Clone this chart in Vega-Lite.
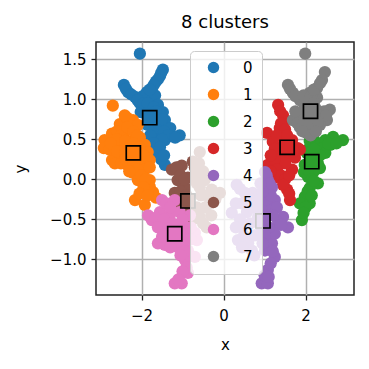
{
  "$schema": "https://vega.github.io/schema/vega-lite/v6.json",
  "autosize": "none",
  "width": 258,
  "height": 253,
  "padding": {"left": 96, "top": 42, "right": 15, "bottom": 74},
  "background": "white",
  "title": {"text": "8 clusters", "font": "DejaVu Sans", "fontSize": 18, "fontWeight": "normal", "color": "#000", "anchor": "middle", "offset": 10},
  "config": {
    "view": {"stroke": "#222", "strokeWidth": 1.5},
    "axis": {"domain": false, "grid": true, "gridColor": "#b0b0b0", "gridWidth": 1.5, "tickColor": "#222", "tickSize": 5, "tickWidth": 1.3, "labelFont": "DejaVu Sans", "labelFontSize": 15, "labelColor": "#000", "titleFont": "DejaVu Sans", "titleFontSize": 15, "titleFontWeight": "normal", "titleColor": "#000"}
  },
  "datasets": {
    "pts": [
      {"x": -2.04, "y": 1.57, "c": "0"}, {"x": -1.48, "y": 1.37, "c": "0"}, {"x": -1.55, "y": 1.29, "c": "0"}, {"x": -1.65, "y": 1.22, "c": "0"}, {"x": -1.75, "y": 1.14, "c": "0"}, {"x": -1.87, "y": 1.09, "c": "0"}, {"x": -1.97, "y": 1.04, "c": "0"}, {"x": -2.43, "y": 1.18, "c": "0"}, {"x": -2.33, "y": 1.09, "c": "0"}, {"x": -2.16, "y": 1.03, "c": "0"}, {"x": -2.04, "y": 0.95, "c": "0"}, {"x": -1.9, "y": 0.89, "c": "0"}, {"x": -1.75, "y": 0.99, "c": "0"}, {"x": -1.67, "y": 1.05, "c": "0"}, {"x": -1.6, "y": 0.93, "c": "0"}, {"x": -1.48, "y": 0.84, "c": "0"}, {"x": -1.43, "y": 0.74, "c": "0"}, {"x": -1.5, "y": 0.65, "c": "0"}, {"x": -1.55, "y": 0.58, "c": "0"}, {"x": -1.07, "y": 0.55, "c": "0"}, {"x": -1.26, "y": 0.54, "c": "0"}, {"x": -1.43, "y": 0.49, "c": "0"}, {"x": -1.6, "y": 0.47, "c": "0"}, {"x": -1.67, "y": 0.37, "c": "0"}, {"x": -1.6, "y": 0.33, "c": "0"}, {"x": -1.43, "y": 0.18, "c": "0"}, {"x": -1.85, "y": 0.68, "c": "0"}, {"x": -1.67, "y": 0.64, "c": "0"}, {"x": -1.79, "y": 0.55, "c": "0"}, {"x": -1.3, "y": 0.64, "c": "0"}, {"x": -1.55, "y": 0.81, "c": "0"}, {"x": -1.79, "y": 0.78, "c": "0"}, {"x": -2.02, "y": 0.84, "c": "0"},
      {"x": -1.52, "y": 1.33, "c": "0"}, {"x": -1.6, "y": 1.25, "c": "0"}, {"x": -1.7, "y": 1.18, "c": "0"}, {"x": -1.8, "y": 1.12, "c": "0"}, {"x": -2.38, "y": 1.13, "c": "0"}, {"x": -2.25, "y": 1.06, "c": "0"}, {"x": -2.1, "y": 0.99, "c": "0"}, {"x": -1.95, "y": 0.95, "c": "0"}, {"x": -1.85, "y": 0.95, "c": "0"}, {"x": -1.7, "y": 0.9, "c": "0"}, {"x": -1.65, "y": 0.85, "c": "0"}, {"x": -1.9, "y": 0.82, "c": "0"}, {"x": -1.7, "y": 0.75, "c": "0"}, {"x": -1.6, "y": 0.7, "c": "0"}, {"x": -1.5, "y": 0.75, "c": "0"}, {"x": -1.45, "y": 0.6, "c": "0"}, {"x": -1.35, "y": 0.55, "c": "0"}, {"x": -1.18, "y": 0.52, "c": "0"}, {"x": -1.5, "y": 0.5, "c": "0"}, {"x": -1.7, "y": 0.45, "c": "0"}, {"x": -1.55, "y": 0.4, "c": "0"}, {"x": -1.52, "y": 0.25, "c": "0"}, {"x": -1.45, "y": 0.3, "c": "0"},
      {"x": -2.7, "y": 0.92, "c": "1"}, {"x": -2.9, "y": 0.49, "c": "1"}, {"x": -2.72, "y": 0.57, "c": "1"}, {"x": -2.53, "y": 0.69, "c": "1"}, {"x": -2.36, "y": 0.77, "c": "1"}, {"x": -2.21, "y": 0.74, "c": "1"}, {"x": -2.09, "y": 0.68, "c": "1"}, {"x": -2.41, "y": 0.59, "c": "1"}, {"x": -2.58, "y": 0.43, "c": "1"}, {"x": -2.29, "y": 0.47, "c": "1"}, {"x": -2.04, "y": 0.52, "c": "1"}, {"x": -1.92, "y": 0.43, "c": "1"}, {"x": -1.85, "y": 0.34, "c": "1"}, {"x": -2.72, "y": 0.24, "c": "1"}, {"x": -2.53, "y": 0.3, "c": "1"}, {"x": -2.34, "y": 0.18, "c": "1"}, {"x": -2.04, "y": 0.22, "c": "1"}, {"x": -1.8, "y": 0.24, "c": "1"}, {"x": -2.65, "y": 0.2, "c": "1"}, {"x": -1.92, "y": 0.12, "c": "1"}, {"x": -2.09, "y": -0.01, "c": "1"}, {"x": -1.8, "y": -0.01, "c": "1"}, {"x": -1.72, "y": -0.16, "c": "1"}, {"x": -1.8, "y": -0.09, "c": "1"}, {"x": -2.16, "y": -0.26, "c": "1"}, {"x": -1.92, "y": -0.32, "c": "1"}, {"x": -1.65, "y": -0.23, "c": "1"}, {"x": -2.92, "y": 0.39, "c": "1"}, {"x": -2.78, "y": 0.37, "c": "1"}, {"x": -2.41, "y": 0.8, "c": "1"}, {"x": -2.45, "y": 0.4, "c": "1"}, {"x": -2.2, "y": 0.08, "c": "1"},
      {"x": -2.6, "y": 0.6, "c": "1"}, {"x": -2.5, "y": 0.55, "c": "1"}, {"x": -2.35, "y": 0.65, "c": "1"}, {"x": -2.2, "y": 0.6, "c": "1"}, {"x": -2.1, "y": 0.55, "c": "1"}, {"x": -2.6, "y": 0.5, "c": "1"}, {"x": -2.4, "y": 0.48, "c": "1"}, {"x": -2.2, "y": 0.45, "c": "1"}, {"x": -2.05, "y": 0.4, "c": "1"}, {"x": -2.75, "y": 0.45, "c": "1"}, {"x": -2.6, "y": 0.35, "c": "1"}, {"x": -2.4, "y": 0.32, "c": "1"}, {"x": -2.3, "y": 0.35, "c": "1"}, {"x": -2.1, "y": 0.33, "c": "1"}, {"x": -1.95, "y": 0.3, "c": "1"}, {"x": -2.5, "y": 0.2, "c": "1"}, {"x": -2.4, "y": 0.25, "c": "1"}, {"x": -2.2, "y": 0.2, "c": "1"}, {"x": -2.1, "y": 0.12, "c": "1"}, {"x": -2.0, "y": 0.05, "c": "1"}, {"x": -1.9, "y": 0.0, "c": "1"}, {"x": -1.95, "y": -0.1, "c": "1"}, {"x": -2.05, "y": -0.18, "c": "1"}, {"x": -1.85, "y": -0.2, "c": "1"}, {"x": -1.8, "y": 0.15, "c": "1"}, {"x": -2.3, "y": 0.1, "c": "1"},
      {"x": 2.67, "y": 0.53, "c": "2"}, {"x": 2.91, "y": 0.49, "c": "2"}, {"x": 2.48, "y": 0.49, "c": "2"}, {"x": 2.3, "y": 0.45, "c": "2"}, {"x": 2.1, "y": 0.4, "c": "2"}, {"x": 2.42, "y": 0.39, "c": "2"}, {"x": 2.03, "y": 0.33, "c": "2"}, {"x": 2.48, "y": 0.33, "c": "2"}, {"x": 2.23, "y": 0.24, "c": "2"}, {"x": 1.98, "y": 0.18, "c": "2"}, {"x": 2.35, "y": 0.14, "c": "2"}, {"x": 2.06, "y": 0.03, "c": "2"}, {"x": 2.3, "y": -0.05, "c": "2"}, {"x": 2.1, "y": -0.11, "c": "2"}, {"x": 1.98, "y": -0.22, "c": "2"}, {"x": 2.1, "y": -0.3, "c": "2"}, {"x": 1.86, "y": -0.3, "c": "2"}, {"x": 1.91, "y": -0.51, "c": "2"}, {"x": 1.96, "y": 0.09, "c": "2"}, {"x": 2.6, "y": 0.43, "c": "2"},
      {"x": 2.2, "y": 0.5, "c": "2"}, {"x": 2.55, "y": 0.45, "c": "2"}, {"x": 2.75, "y": 0.45, "c": "2"}, {"x": 2.15, "y": 0.3, "c": "2"}, {"x": 2.35, "y": 0.3, "c": "2"}, {"x": 2.1, "y": 0.2, "c": "2"}, {"x": 2.3, "y": 0.2, "c": "2"}, {"x": 2.2, "y": 0.1, "c": "2"}, {"x": 2.05, "y": 0.12, "c": "2"}, {"x": 2.15, "y": 0.0, "c": "2"}, {"x": 2.2, "y": -0.02, "c": "2"}, {"x": 2.05, "y": -0.15, "c": "2"}, {"x": 2.15, "y": -0.2, "c": "2"}, {"x": 2.0, "y": -0.35, "c": "2"}, {"x": 1.95, "y": -0.42, "c": "2"}, {"x": 2.1, "y": 0.48, "c": "2"}, {"x": 2.2, "y": 0.38, "c": "2"},
      {"x": 1.33, "y": 0.93, "c": "3"}, {"x": 1.5, "y": 0.74, "c": "3"}, {"x": 1.37, "y": 0.64, "c": "3"}, {"x": 1.06, "y": 0.58, "c": "3"}, {"x": 1.2, "y": 0.47, "c": "3"}, {"x": 1.45, "y": 0.53, "c": "3"}, {"x": 1.67, "y": 0.49, "c": "3"}, {"x": 1.81, "y": 0.39, "c": "3"}, {"x": 1.55, "y": 0.28, "c": "3"}, {"x": 1.33, "y": 0.37, "c": "3"}, {"x": 1.08, "y": 0.18, "c": "3"}, {"x": 1.42, "y": 0.2, "c": "3"}, {"x": 1.74, "y": 0.27, "c": "3"}, {"x": 1.25, "y": 0.02, "c": "3"}, {"x": 1.55, "y": -0.13, "c": "3"}, {"x": 1.62, "y": -0.26, "c": "3"}, {"x": 1.67, "y": 0.12, "c": "3"}, {"x": 1.86, "y": 0.37, "c": "3"},
      {"x": 1.38, "y": 0.85, "c": "3"}, {"x": 1.45, "y": 0.8, "c": "3"}, {"x": 1.4, "y": 0.7, "c": "3"}, {"x": 1.5, "y": 0.62, "c": "3"}, {"x": 1.3, "y": 0.55, "c": "3"}, {"x": 1.55, "y": 0.55, "c": "3"}, {"x": 1.6, "y": 0.42, "c": "3"}, {"x": 1.45, "y": 0.42, "c": "3"}, {"x": 1.25, "y": 0.38, "c": "3"}, {"x": 1.7, "y": 0.35, "c": "3"}, {"x": 1.35, "y": 0.28, "c": "3"}, {"x": 1.5, "y": 0.2, "c": "3"}, {"x": 1.25, "y": 0.25, "c": "3"}, {"x": 1.15, "y": 0.3, "c": "3"}, {"x": 1.3, "y": 0.12, "c": "3"}, {"x": 1.4, "y": 0.05, "c": "3"}, {"x": 1.5, "y": 0.0, "c": "3"}, {"x": 1.6, "y": 0.05, "c": "3"}, {"x": 1.45, "y": -0.07, "c": "3"}, {"x": 1.6, "y": -0.18, "c": "3"}, {"x": 1.15, "y": 0.1, "c": "3"},
      {"x": 1.01, "y": 0.09, "c": "4"}, {"x": 1.08, "y": -0.01, "c": "4"}, {"x": 1.18, "y": -0.1, "c": "4"}, {"x": 1.01, "y": -0.16, "c": "4"}, {"x": 1.25, "y": -0.26, "c": "4"}, {"x": 1.13, "y": -0.36, "c": "4"}, {"x": 1.45, "y": -0.47, "c": "4"}, {"x": 1.57, "y": -0.6, "c": "4"}, {"x": 1.33, "y": -0.53, "c": "4"}, {"x": 1.18, "y": -0.63, "c": "4"}, {"x": 1.08, "y": -0.73, "c": "4"}, {"x": 1.18, "y": -0.8, "c": "4"}, {"x": 1.25, "y": -0.97, "c": "4"}, {"x": 1.08, "y": -1.13, "c": "4"}, {"x": 0.93, "y": -1.3, "c": "4"}, {"x": 1.08, "y": -1.3, "c": "4"}, {"x": 1.01, "y": -0.89, "c": "4"}, {"x": 0.93, "y": -0.38, "c": "4"}, {"x": 0.93, "y": -0.61, "c": "4"}, {"x": 0.32, "y": -0.07, "c": "4"}, {"x": 0.52, "y": -0.17, "c": "4"}, {"x": 0.71, "y": -0.17, "c": "4"}, {"x": 0.2, "y": -0.42, "c": "4"}, {"x": 0.57, "y": -0.41, "c": "4"}, {"x": 0.84, "y": -0.47, "c": "4"}, {"x": 0.52, "y": -0.57, "c": "4"}, {"x": 0.35, "y": -0.76, "c": "4"}, {"x": 0.69, "y": -0.89, "c": "4"}, {"x": 0.76, "y": -0.7, "c": "4"}, {"x": 0.84, "y": -0.26, "c": "4"},
      {"x": 1.05, "y": 0.05, "c": "4"}, {"x": 1.12, "y": -0.05, "c": "4"}, {"x": 1.05, "y": -0.25, "c": "4"}, {"x": 1.15, "y": -0.2, "c": "4"}, {"x": 1.3, "y": -0.35, "c": "4"}, {"x": 1.2, "y": -0.45, "c": "4"}, {"x": 1.05, "y": -0.45, "c": "4"}, {"x": 1.4, "y": -0.57, "c": "4"}, {"x": 1.25, "y": -0.68, "c": "4"}, {"x": 1.1, "y": -0.6, "c": "4"}, {"x": 1.0, "y": -0.7, "c": "4"}, {"x": 1.12, "y": -0.88, "c": "4"}, {"x": 1.2, "y": -0.9, "c": "4"}, {"x": 1.15, "y": -1.05, "c": "4"}, {"x": 1.0, "y": -1.2, "c": "4"}, {"x": 1.1, "y": -1.22, "c": "4"}, {"x": 0.95, "y": -0.8, "c": "4"}, {"x": 0.95, "y": -0.15, "c": "4"}, {"x": 0.9, "y": -0.05, "c": "4"}, {"x": 0.4, "y": -0.12, "c": "4"}, {"x": 0.6, "y": -0.25, "c": "4"}, {"x": 0.45, "y": -0.3, "c": "4"}, {"x": 0.3, "y": -0.3, "c": "4"}, {"x": 0.7, "y": -0.35, "c": "4"}, {"x": 0.4, "y": -0.5, "c": "4"}, {"x": 0.65, "y": -0.55, "c": "4"}, {"x": 0.3, "y": -0.6, "c": "4"}, {"x": 0.5, "y": -0.7, "c": "4"}, {"x": 0.6, "y": -0.8, "c": "4"}, {"x": 0.45, "y": -0.85, "c": "4"}, {"x": 0.75, "y": -0.95, "c": "4"},
      {"x": -1.26, "y": 0.12, "c": "5"}, {"x": -1.02, "y": 0.17, "c": "5"}, {"x": -1.12, "y": -0.01, "c": "5"}, {"x": -1.19, "y": -0.17, "c": "5"}, {"x": -0.94, "y": -0.1, "c": "5"}, {"x": -1.2, "y": -0.3, "c": "5"}, {"x": -0.87, "y": 0.02, "c": "5"}, {"x": -0.99, "y": -0.26, "c": "5"}, {"x": -0.75, "y": 0.22, "c": "5"}, {"x": -0.58, "y": 0.34, "c": "5"}, {"x": -0.58, "y": -0.1, "c": "5"}, {"x": -0.33, "y": -0.3, "c": "5"}, {"x": -0.09, "y": -0.17, "c": "5"}, {"x": -0.58, "y": -0.47, "c": "5"}, {"x": -0.41, "y": -0.6, "c": "5"}, {"x": -0.7, "y": 0.05, "c": "5"}, {"x": -0.46, "y": -0.01, "c": "5"}, {"x": -0.29, "y": -0.13, "c": "5"},
      {"x": -1.15, "y": 0.15, "c": "5"}, {"x": -1.05, "y": 0.05, "c": "5"}, {"x": -0.95, "y": 0.0, "c": "5"}, {"x": -1.05, "y": -0.15, "c": "5"}, {"x": -0.9, "y": -0.2, "c": "5"}, {"x": -1.1, "y": -0.25, "c": "5"}, {"x": -1.0, "y": -0.35, "c": "5"}, {"x": -0.85, "y": -0.32, "c": "5"}, {"x": -0.7, "y": 0.15, "c": "5"}, {"x": -0.6, "y": 0.2, "c": "5"}, {"x": -0.5, "y": 0.1, "c": "5"}, {"x": -0.65, "y": -0.05, "c": "5"}, {"x": -0.55, "y": -0.2, "c": "5"}, {"x": -0.4, "y": -0.2, "c": "5"}, {"x": -0.2, "y": -0.25, "c": "5"}, {"x": -0.45, "y": -0.35, "c": "5"}, {"x": -0.3, "y": -0.45, "c": "5"}, {"x": -0.5, "y": -0.55, "c": "5"}, {"x": -0.65, "y": -0.35, "c": "5"}, {"x": -0.75, "y": -0.5, "c": "5"},
      {"x": -1.5, "y": -0.26, "c": "6"}, {"x": -1.19, "y": -0.26, "c": "6"}, {"x": -1.75, "y": -0.51, "c": "6"}, {"x": -1.84, "y": -0.45, "c": "6"}, {"x": -1.55, "y": -0.41, "c": "6"}, {"x": -1.31, "y": -0.45, "c": "6"}, {"x": -1.07, "y": -0.41, "c": "6"}, {"x": -1.5, "y": -0.63, "c": "6"}, {"x": -1.6, "y": -0.8, "c": "6"}, {"x": -1.43, "y": -0.82, "c": "6"}, {"x": -1.11, "y": -0.85, "c": "6"}, {"x": -0.87, "y": -0.89, "c": "6"}, {"x": -0.94, "y": -1.01, "c": "6"}, {"x": -0.87, "y": -1.17, "c": "6"}, {"x": -1.02, "y": -1.3, "c": "6"}, {"x": -1.19, "y": -1.3, "c": "6"}, {"x": -0.94, "y": -0.63, "c": "6"}, {"x": -1.26, "y": -0.73, "c": "6"}, {"x": -0.82, "y": -0.45, "c": "6"}, {"x": -0.7, "y": -0.67, "c": "6"}, {"x": -0.7, "y": -0.97, "c": "6"}, {"x": -1.11, "y": -0.57, "c": "6"}, {"x": -0.65, "y": -0.76, "c": "6"},
      {"x": -1.4, "y": -0.3, "c": "6"}, {"x": -1.3, "y": -0.35, "c": "6"}, {"x": -1.65, "y": -0.48, "c": "6"}, {"x": -1.45, "y": -0.5, "c": "6"}, {"x": -1.25, "y": -0.55, "c": "6"}, {"x": -1.0, "y": -0.5, "c": "6"}, {"x": -1.6, "y": -0.6, "c": "6"}, {"x": -1.35, "y": -0.62, "c": "6"}, {"x": -1.05, "y": -0.7, "c": "6"}, {"x": -1.4, "y": -0.72, "c": "6"}, {"x": -1.15, "y": -0.75, "c": "6"}, {"x": -1.5, "y": -0.72, "c": "6"}, {"x": -1.3, "y": -0.85, "c": "6"}, {"x": -1.0, "y": -0.8, "c": "6"}, {"x": -0.95, "y": -0.9, "c": "6"}, {"x": -1.05, "y": -0.95, "c": "6"}, {"x": -0.9, "y": -1.1, "c": "6"}, {"x": -1.0, "y": -1.15, "c": "6"}, {"x": -1.1, "y": -1.25, "c": "6"}, {"x": -0.8, "y": -0.75, "c": "6"}, {"x": -0.8, "y": -0.6, "c": "6"},
      {"x": 1.99, "y": 1.57, "c": "7"}, {"x": 2.47, "y": 1.34, "c": "7"}, {"x": 2.4, "y": 1.24, "c": "7"}, {"x": 2.28, "y": 1.14, "c": "7"}, {"x": 2.1, "y": 1.08, "c": "7"}, {"x": 1.57, "y": 1.18, "c": "7"}, {"x": 1.69, "y": 1.08, "c": "7"}, {"x": 1.86, "y": 0.99, "c": "7"}, {"x": 1.98, "y": 0.93, "c": "7"}, {"x": 2.28, "y": 1.02, "c": "7"}, {"x": 2.59, "y": 0.87, "c": "7"}, {"x": 2.52, "y": 0.74, "c": "7"}, {"x": 2.35, "y": 0.81, "c": "7"}, {"x": 1.79, "y": 0.78, "c": "7"}, {"x": 1.86, "y": 0.65, "c": "7"}, {"x": 2.03, "y": 0.58, "c": "7"}, {"x": 2.35, "y": 0.68, "c": "7"}, {"x": 1.69, "y": 0.74, "c": "7"}, {"x": 2.16, "y": 0.74, "c": "7"}, {"x": 2.18, "y": 0.62, "c": "7"},
      {"x": 1.62, "y": 1.13, "c": "7"}, {"x": 1.75, "y": 1.04, "c": "7"}, {"x": 1.95, "y": 1.05, "c": "7"}, {"x": 2.15, "y": 1.05, "c": "7"}, {"x": 2.2, "y": 1.12, "c": "7"}, {"x": 2.35, "y": 1.2, "c": "7"}, {"x": 2.05, "y": 0.98, "c": "7"}, {"x": 2.2, "y": 0.95, "c": "7"}, {"x": 2.45, "y": 0.85, "c": "7"}, {"x": 2.5, "y": 0.8, "c": "7"}, {"x": 1.95, "y": 0.85, "c": "7"}, {"x": 2.1, "y": 0.88, "c": "7"}, {"x": 2.25, "y": 0.88, "c": "7"}, {"x": 1.8, "y": 0.7, "c": "7"}, {"x": 1.95, "y": 0.7, "c": "7"}, {"x": 2.05, "y": 0.68, "c": "7"}, {"x": 2.3, "y": 0.72, "c": "7"}, {"x": 1.92, "y": 0.6, "c": "7"}, {"x": 2.12, "y": 0.55, "c": "7"}, {"x": 2.25, "y": 0.6, "c": "7"}, {"x": 1.75, "y": 0.85, "c": "7"}
    ],
    "cents": [
      {"x": -1.8, "y": 0.77, "c": "0"}, {"x": -2.2, "y": 0.33, "c": "1"}, {"x": 2.15, "y": 0.22, "c": "2"}, {"x": 1.55, "y": 0.4, "c": "3"},
      {"x": 0.96, "y": -0.52, "c": "4"}, {"x": -0.87, "y": -0.27, "c": "5"}, {"x": -1.19, "y": -0.68, "c": "6"}, {"x": 2.12, "y": 0.85, "c": "7"}
    ]
  },
  "layer": [
    {
      "data": {"name": "pts"},
      "mark": {"type": "circle", "size": 150, "opacity": 1},
      "encoding": {
        "x": {"field": "x", "type": "quantitative", "scale": {"domain": [-3.11, 3.18], "nice": false, "zero": false}, "axis": {"values": [-2, 0, 2], "format": "d", "title": "x", "labelPadding": 8, "titlePadding": 14}},
        "y": {"field": "y", "type": "quantitative", "scale": {"domain": [-1.446, 1.716], "nice": false, "zero": false}, "axis": {"values": [-1, -0.5, 0, 0.5, 1, 1.5], "format": ".1f", "title": "y", "labelPadding": 5, "titlePadding": 21}},
        "color": {"field": "c", "type": "nominal", "scale": {"domain": ["0","1","2","3","4","5","6","7"], "range": ["#1f77b4","#ff7f0e","#2ca02c","#d62728","#9467bd","#8c564b","#e377c2","#7f7f7f"]},
          "legend": {"title": null, "orient": "none", "legendX": 94, "legendY": 9, "fillColor": "rgba(255,255,255,0.8)", "strokeColor": "#cccccc", "cornerRadius": 4, "padding": 9, "symbolType": "circle", "symbolSize": 130, "symbolStrokeWidth": 0, "symbolOffset": 7, "labelOffset": 22, "labelFont": "DejaVu Sans", "labelFontSize": 15, "labelColor": "#000", "rowPadding": 11}}
      }
    },
    {
      "data": {"name": "cents"},
      "mark": {"type": "square", "size": 200, "filled": true, "opacity": 1, "fillOpacity": 1, "strokeOpacity": 1, "stroke": "black", "strokeWidth": 1.7},
      "encoding": {
        "x": {"field": "x", "type": "quantitative"},
        "y": {"field": "y", "type": "quantitative"},
        "color": {"field": "c", "type": "nominal"}
      }
    }
  ]
}
